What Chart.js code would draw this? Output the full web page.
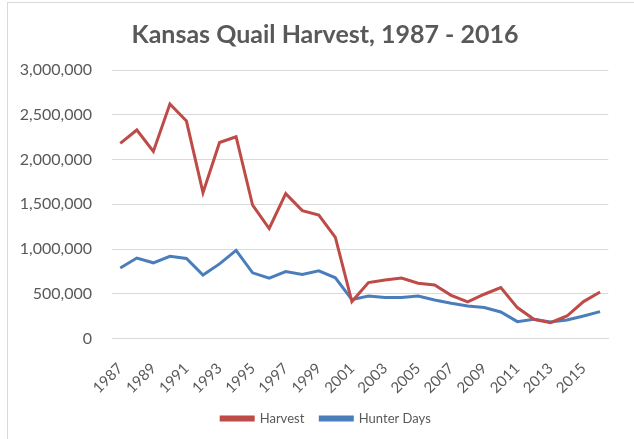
<!DOCTYPE html>
<html>
<head>
<meta charset="utf-8">
<script src="https://cdn.jsdelivr.net/npm/chart.js@4"></script>
<style>
  html, body { margin: 0; padding: 0; background: #fff; }
  #wrap { position: relative; width: 634px; height: 439px; }
  #frame { position: absolute; left: 7px; top: 2px; right: 0; bottom: 0;
           border-top: 1px solid #d9d9d9; border-left: 1px solid #d9d9d9; pointer-events: none; }
  canvas { position: absolute; left: 0; top: 0; }
</style>
</head>
<body>
<div id="wrap">
  <canvas id="qChart" width="634" height="439"></canvas>
  <div id="frame"></div>
</div>
<script>
// years on the category axis, every other one gets a label
const years = [1987, 1988, 1989, 1990, 1991, 1992, 1993, 1994, 1995, 1996,
               1997, 1998, 1999, 2000, 2001, 2002, 2003, 2004, 2005, 2006,
               2007, 2008, 2009, 2010, 2011, 2012, 2013, 2014, 2015, 2016];

// values
const harvest = [2180000, 2330000, 2090000, 2620000, 2430000, 1630000, 2190000, 2255000, 1490000, 1230000,
                 1620000, 1430000, 1380000, 1130000, 414000, 626000, 655000, 678000, 619000, 600000,
                 484000, 410000, 496000, 570000, 347000, 216000, 179000, 253000, 414000, 521000];
const hunterDays = [790000, 900000, 847000, 920000, 895000, 710000, 835000, 985000, 735000, 675000,
                    750000, 716000, 757000, 680000, 436000, 477000, 459000, 459000, 477000, 432000,
                    395000, 365000, 347000, 298000, 190000, 216000, 186000, 208000, 253000, 302000];

const yTicks = [0, 500000, 1000000, 1500000, 2000000, 2500000, 3000000];

const textGray = '#595959';
const gridGray = '#d9d9d9';
const fontFamily = 'Lato, "Open Sans", sans-serif';

// nudge title and legend a little right, like the Excel original
const shiftBlocks = {
    id: 'shiftBlocks',
    afterLayout(chart) {
        if (chart.titleBlock) chart.titleBlock.left += 14;
        if (chart.legend) { chart.legend.left += 8; chart.legend.right += 8; }
    }
};

new Chart(document.getElementById('qChart'), {
    type: 'line',
    data: {
        labels: years.map(String),
        datasets: [{
            label: 'Harvest',
            data: harvest,
            borderColor: '#be4b48',
            backgroundColor: '#be4b48',
            borderWidth: 3,
            pointRadius: 0,
            tension: 0
        }, {
            label: 'Hunter Days',
            data: hunterDays,
            borderColor: '#4a7ebb',
            backgroundColor: '#4a7ebb',
            borderWidth: 3,
            pointRadius: 0,
            tension: 0
        }]
    },
    plugins: [shiftBlocks],
    options: {
        responsive: false,
        animation: false,
        layout: { padding: { left: 14, right: 12, top: 0, bottom: 4 } },
        plugins: {
            title: {
                display: true,
                text: 'Kansas Quail Harvest, 1987 - 2016',
                color: textGray,
                font: { family: fontFamily, size: 25, weight: 'bold' },
                padding: { top: 20, bottom: 20 }
            },
            legend: {
                position: 'bottom',
                labels: {
                    color: textGray,
                    font: { family: fontFamily, size: 13 },
                    boxWidth: 32,
                    boxHeight: 3,
                    padding: 16
                }
            },
            tooltip: { enabled: false }
        },
        scales: {
            x: {
                type: 'category',
                offset: true,
                afterFit: (scale) => { scale.height -= 22; },
                grid: { display: false, drawTicks: false },
                border: { display: true, color: gridGray },
                ticks: {
                    color: textGray,
                    font: { family: fontFamily, size: 15 },
                    autoSkip: false,
                    maxRotation: 45,
                    minRotation: 45,
                    padding: 21,
                    callback: function (val, i) { return i % 2 === 0 ? this.getLabelForValue(val) : ''; }
                }
            },
            y: {
                min: 0,
                max: 3000000,
                afterBuildTicks: (scale) => { scale.ticks = yTicks.map(v => ({ value: v })); },
                afterFit: (scale) => { scale.width = 98; },
                grid: { color: gridGray, drawTicks: false },
                border: { display: false },
                ticks: {
                    color: textGray,
                    font: { family: fontFamily, size: 16 },
                    padding: 20,
                    callback: (v) => v.toLocaleString('en-US')
                }
            }
        }
    }
});
</script>
</body>
</html>
